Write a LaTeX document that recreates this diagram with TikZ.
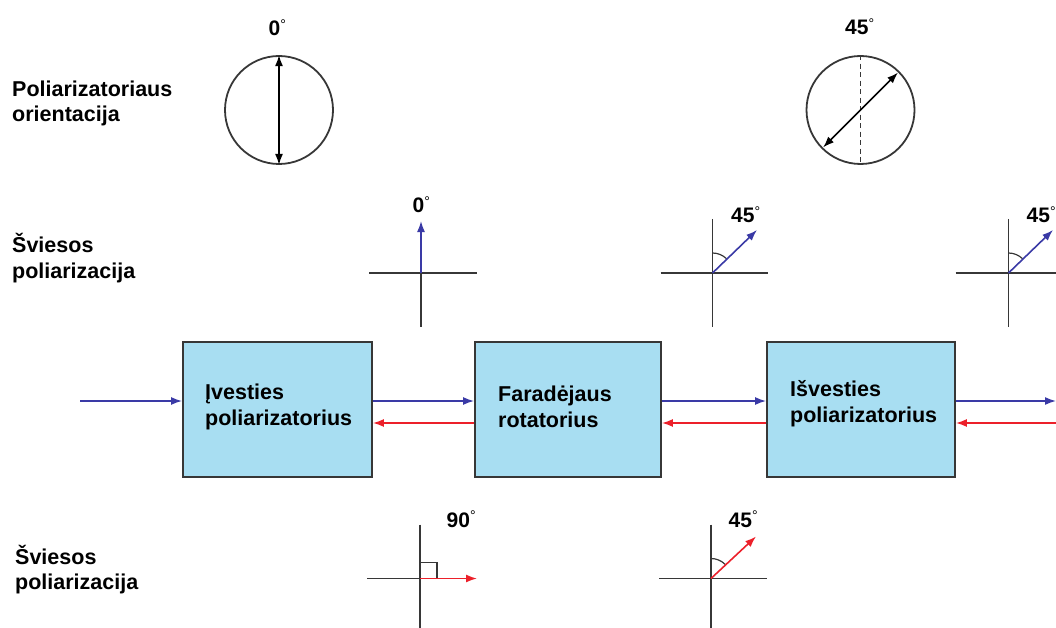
\documentclass[tikz,border=0pt]{standalone}
\usepackage{fontspec}
\setmainfont{Liberation Sans}
\usetikzlibrary{arrows.meta,calc}
\definecolor{boxfill}{RGB}{168,222,242}
\definecolor{fwdc}{RGB}{58,58,166}
\definecolor{bwdc}{RGB}{236,32,42}
\definecolor{axc}{RGB}{55,55,55}
\newcommand{\dg}{\raisebox{6.5pt}{\fontsize{14}{14}\mdseries\selectfont °}}
\begin{document}
\begin{tikzpicture}[x=1pt,y=-1pt,
  lbl/.style={font=\bfseries\fontsize{21.5}{25.5}\selectfont, align=left, inner sep=0pt, anchor=north west},
  deg/.style={font=\bfseries\fontsize{21}{21}\selectfont, inner sep=0pt, anchor=base west},
  ax/.style={draw=axc, line width=1.7pt},
  boxn/.style={draw=axc, line width=1.8pt, fill=boxfill, minimum height=135pt, inner sep=0pt},
  fw/.style={draw=fwdc, line width=1.6pt, -{Latex[length=11pt,width=8pt]}},
  bw/.style={draw=bwdc, line width=1.6pt, -{Latex[length=11pt,width=8pt]}},
  polc/.style={circle, draw=axc, line width=1.8pt, minimum size=108pt, inner sep=0pt},
  dblarrow/.style={draw=black, line width=1.5pt, {Latex[length=11pt,width=8pt]}-{Latex[length=11pt,width=8pt]}},
]
\useasboundingbox (0,0) rectangle (1056,628);

% row labels
\node[lbl] (rowA) at (12,76) {\rule{0pt}{20pt}Poliarizatoriaus\\orientacija};
\node[lbl] (rowB) at (12,232.3) {\rule{0pt}{20pt}Šviesos\\poliarizacija};
\node[lbl] (rowC) at (15,544) {\rule{0pt}{20pt}Šviesos\\poliarizacija};

% polarizer orientation circles
\node[polc] (pol0) at (279,110) {};
\draw[dblarrow] (pol0.north) -- (pol0.south);
\node[deg] (pol0lbl) at (268.5,36) {0\dg};

\node[polc] (pol45) at (860.5,110) {};
\draw[axc, line width=1.7pt, dash pattern=on 5pt off 3.5pt] (pol45.north) -- (pol45.south);
\draw[dblarrow, shorten <=2pt, shorten >=2pt] (pol45.225) -- (pol45.45);
\node[deg] (pol45lbl) at (845,35) {45\dg};

% boxes
\node[boxn, minimum width=189pt] (inp) at (277.5,409.5) {};
\node[boxn, minimum width=186pt] (rot) at (568,409.5) {};
\node[boxn, minimum width=188pt] (outp) at (861,409.5) {};
\node[lbl] (inplbl) at (205,379.3) {\rule{0pt}{20pt}Įvesties\\poliarizatorius};
\node[lbl] (rotlbl) at (498,381.7) {\rule{0pt}{20pt}Faradėjaus\\rotatorius};
\node[lbl] (outplbl) at (790,376.5) {\rule{0pt}{20pt}Išvesties\\poliarizatorius};

% forward (blue) and backward (red) beams
\coordinate (src) at (80,401);
\coordinate (snk) at (1056,401);
\coordinate (ret) at (1056,423);
\draw[fw] (src) -- (src -| inp.west);
\draw[fw] (inp.east |- src) -- (rot.west |- src);
\draw[fw] (rot.east |- src) -- (outp.west |- src);
\draw[fw] (outp.east |- snk) -- (snk);
\draw[bw] (ret) -- (ret -| outp.east);
\draw[bw] (outp.west |- ret) -- (rot.east |- ret);
\draw[bw] (rot.west |- ret) -- (inp.east |- ret);

% light polarization, forward (top row)
\coordinate (A1) at (421,273);
\draw[ax] ($(A1)+(-52,0)$) -- ($(A1)+(56,0)$);
\draw[ax] (A1) -- ($(A1)+(0,54)$);
\draw[fw] (A1) -- ($(A1)+(0,-52)$);
\node[deg] (A1lbl) at (412.5,213) {0\dg};

\coordinate (A2) at (712.5,273);
\draw[ax] ($(A2)+(-52,0)$) -- ($(A2)+(55,0)$);
\draw[ax] ($(A2)+(0,-54)$) -- ($(A2)+(0,54)$);
\draw[axc, line width=1.2pt] ($(A2)+(0,-20)$) arc[start angle=-90, end angle=-45, radius=20];
\draw[fw] (A2) -- ($(A2)+(44.5,-43)$);
\node[deg] (A2lbl) at (731,222.7) {45\dg};

\coordinate (A3) at (1008.5,273);
\draw[ax] ($(A3)+(-53,0)$) -- ($(A3)+(50,0)$);
\draw[ax] ($(A3)+(0,-54)$) -- ($(A3)+(0,54)$);
\draw[axc, line width=1.2pt] ($(A3)+(0,-20)$) arc[start angle=-90, end angle=-45, radius=20];
\draw[fw] (A3) -- ($(A3)+(44.5,-43)$);
\node[deg] (A3lbl) at (1026.5,222.7) {45\dg};

% light polarization, backward (bottom row)
\coordinate (B1) at (420,578.5);
\draw[ax] ($(B1)+(-53,0)$) -- (B1);
\draw[ax] ($(B1)+(0,-54)$) -- ($(B1)+(0,52)$);
\draw[axc, line width=1.3pt] ($(B1)+(0,-16)$) -| ($(B1)+(17,0)$);
\draw[bw] (B1) -- ($(B1)+(57,0)$);
\node[deg] (B1lbl) at (446.5,527.3) {90\dg};

\coordinate (B2) at (711,578.5);
\draw[ax] ($(B2)+(-52,0)$) -- ($(B2)+(56,0)$);
\draw[ax] ($(B2)+(0,-54)$) -- ($(B2)+(0,52)$);
\draw[axc, line width=1.2pt] ($(B2)+(0,-20)$) arc[start angle=-90, end angle=-45, radius=20];
\draw[bw] (B2) -- ($(B2)+(45,-42)$);
\node[deg] (B2lbl) at (728.5,527.3) {45\dg};
\end{tikzpicture}
\end{document}
